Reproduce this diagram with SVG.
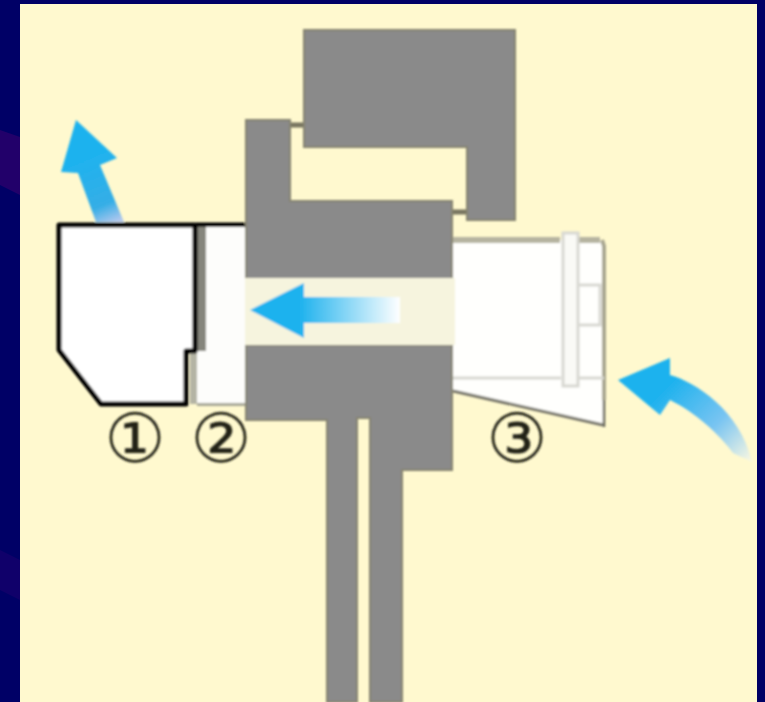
<svg xmlns="http://www.w3.org/2000/svg" width="765" height="702" viewBox="0 0 765 702">
<style>
.gray{fill:#8a8a8a;stroke:#85836f;stroke-width:2}
.num{font-family:"DejaVu Sans",sans-serif;font-size:68px;fill:#222218;text-anchor:middle}
.hair{stroke:#d8d8d2;stroke-width:3;fill:none}
</style>
<defs>
<filter id="soft" x="-5%" y="-5%" width="110%" height="110%"><feGaussianBlur stdDeviation="0.9"/></filter>
<linearGradient id="gUp" gradientUnits="userSpaceOnUse" x1="85" y1="160" x2="112" y2="224"><stop offset="0" stop-color="#1fb2ee"/><stop offset="0.7" stop-color="#35aee6"/><stop offset="1" stop-color="#b4c8ee"/></linearGradient>
<linearGradient id="gMid" gradientUnits="userSpaceOnUse" x1="300" y1="0" x2="400" y2="0"><stop offset="0" stop-color="#1fb2ee"/><stop offset="1" stop-color="#ffffff"/></linearGradient>
<linearGradient id="gRight" gradientUnits="userSpaceOnUse" x1="670" y1="385" x2="748" y2="462"><stop offset="0" stop-color="#1fb2ee"/><stop offset="0.55" stop-color="#78c4f2"/><stop offset="1" stop-color="#f6f6e2"/></linearGradient>
</defs>
<g id="background">
<rect width="765" height="702" fill="#000066"/>
<polygon points="0,130 20,137 20,195 0,185" fill="#22006a"/>
<polygon points="0,550 20,560 20,600 0,590" fill="#10006a"/>
<rect x="20" y="4" width="737" height="698" fill="#fff9cf"/>
</g>
<g filter="url(#soft)">
<g id="connectors">
<path d="M290 125H304M452 212H467" stroke="#77755f" stroke-width="5" fill="none"/>
<path d="M196 225H246" stroke="#000" stroke-width="5" fill="none"/>
</g>
<g id="node-2">
<rect x="197" y="227" width="49" height="177" fill="#fdfdfb"/>
<rect x="197" y="227" width="9" height="124" fill="#85857b"/>
<rect x="190" y="352" width="7" height="52" fill="#b4b4a4"/>
<rect x="197" y="403" width="49" height="3" fill="#a8a898"/>
</g>
<g id="node-1">
<path d="M59 225V350L101 404H186V351H195V225Z" fill="#fff" stroke="#000" stroke-width="5" stroke-linejoin="round"/>
<text class="num" x="135" y="462">①</text>
</g>
<g id="node-3">
<polygon points="452,240 600,240 605,246 605,427 452,390" fill="#fffffd"/>
<path d="M452 240H560M578 240H600" stroke="#b6b4a0" stroke-width="6" fill="none"/>
<path d="M602 240L604 246V400" stroke="#a8a690" stroke-width="4" fill="none"/>
<path d="M604 400V427" stroke="#66665a" stroke-width="2.5" fill="none"/>
<path d="M453 391L603 425" stroke="#77766a" stroke-width="3" fill="none"/>
<rect x="563" y="233" width="15" height="153" fill="#fafaf6" stroke="#d8d8d2" stroke-width="3"/>
<path class="hair" d="M453 378H561M579 378H604M579 285H600V325H579"/>
<text class="num" x="517" y="462">③</text>
</g>
<g id="node-body">
<path class="gray" d="M246 120H290V201H452V279H246Z"/>
<path class="gray" d="M246 345H452V470H402V702H370V418H357V702H327V420H246Z"/>
<rect x="245" y="278" width="210" height="67" fill="#f6f4de"/>
<text class="num" x="221" y="462">②</text>
</g>
<g id="node-top">
<path class="gray" d="M304 30H515V220H467V147H304Z"/>
</g>
<g id="arrows">
<polygon id="arrow-out" points="76,120 117,158 100,165 124,222 96,222 78,173 61,172" fill="url(#gUp)"/>
<polygon id="arrow-through" points="250,310 304,283 304,297 400,297 400,323 304,323 304,338" fill="url(#gMid)"/>
<path id="arrow-in" d="M618 380L670 358 670 375C695 382 740 410 752 462 745 458 738 456 733 453 720 435 695 412 670 400L660 415Z" fill="url(#gRight)"/>
</g>
</g>
</svg>
